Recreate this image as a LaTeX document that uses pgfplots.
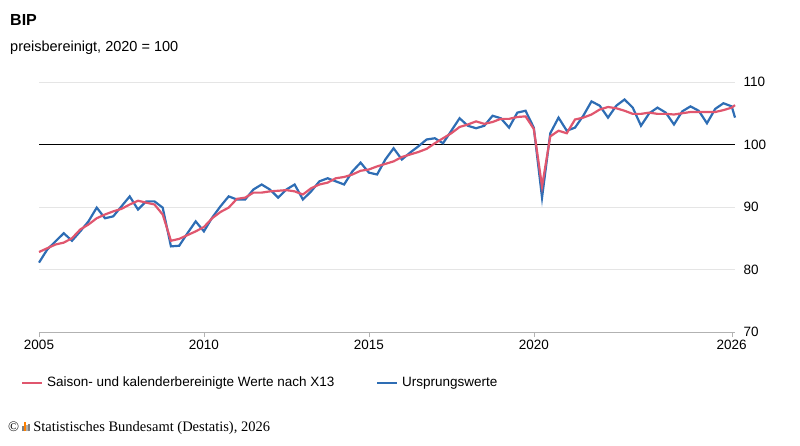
\documentclass[border=0pt]{standalone}
\usepackage{pgfplots}
\pgfplotsset{compat=1.18}
\usepackage{fontspec}
\setmainfont{Liberation Sans}
\newfontfamily\seriff{Liberation Serif}
\definecolor{bl}{HTML}{2E6DB4}
\definecolor{rd}{HTML}{E0566E}
\begin{document}
\begin{tikzpicture}[x=1pt,y=1pt]
\path (0,0) rectangle (800,-446);
\node[anchor=west,inner sep=0pt,font=\bfseries\fontsize{16}{18}\selectfont] at (10,-20) {BIP};
\node[anchor=west,inner sep=0pt,font=\fontsize{14.5}{16}\selectfont] at (10,-48) {preisbereinigt, 2020 = 100};
\begin{axis}[at={(39pt,-332pt)},anchor=south west,scale only axis,width=696pt,height=250pt,
 xmin=2005,xmax=2026.1,ymin=70,ymax=110,
 axis y line*=right, axis x line*=bottom, y axis line style={draw=none},
 x axis line style={gray!60}, xtick={2005,2010,2015,2020,2026},
 xticklabel style={/pgf/number format/1000 sep=,font=\fontsize{13.5}{15}\selectfont},
 yticklabel style={font=\fontsize{13.5}{15}\selectfont},
 /pgf/number format/assume math mode=true,
 ytick={70,80,90,100,110}, ymajorgrids, grid style={gray!20,line width=0.8pt},
 ytick style={draw=none}, xtick style={gray!60}, tick align=outside, major tick length=5pt,
 clip=false]
\addplot[black,line width=0.8pt] coordinates {(2005,100)(2026.1,100)};
\addplot[bl,line width=2.2pt] coordinates {
(2005.0,81.1)(2005.25,83.2)(2005.5,84.5)(2005.75,85.8)(2006.0,84.6)(2006.25,86.1)(2006.5,87.7)(2006.75,89.9)
(2007.0,88.2)(2007.25,88.5)(2007.5,90.1)(2007.75,91.7)(2008.0,89.6)(2008.25,90.9)(2008.5,90.9)(2008.75,89.9)
(2009.0,83.7)(2009.25,83.8)(2009.5,85.8)(2009.75,87.7)(2010.0,86.1)(2010.25,88.3)(2010.5,90.1)(2010.75,91.7)
(2011.0,91.2)(2011.25,91.2)(2011.5,92.8)(2011.75,93.6)(2012.0,92.8)(2012.25,91.5)(2012.5,92.8)(2012.75,93.6)
(2013.0,91.2)(2013.25,92.5)(2013.5,94.1)(2013.75,94.6)(2014.0,94.1)(2014.25,93.6)(2014.5,95.7)(2014.75,97.1)
(2015.0,95.5)(2015.25,95.2)(2015.5,97.6)(2015.75,99.4)(2016.0,97.6)(2016.25,98.7)(2016.5,99.7)(2016.75,100.8)
(2017.0,101.0)(2017.25,100.2)(2017.5,102.2)(2017.75,104.2)(2018.0,103.0)(2018.25,102.6)(2018.5,103.0)(2018.75,104.6)
(2019.0,104.2)(2019.25,102.7)(2019.5,105.1)(2019.75,105.4)(2020.0,102.7)(2020.25,91.5)(2020.5,101.8)(2020.75,104.3)
(2021.0,102.2)(2021.25,102.7)(2021.5,104.6)(2021.75,106.9)(2022.0,106.2)(2022.25,104.3)(2022.5,106.2)(2022.75,107.2)
(2023.0,105.9)(2023.25,103.0)(2023.5,105.0)(2023.75,105.9)(2024.0,105.1)(2024.25,103.2)(2024.5,105.3)(2024.75,106.1)
(2025.0,105.4)(2025.25,103.4)(2025.5,105.7)(2025.75,106.6)(2026.0,106.1)(2026.1,104.3)};
\addplot[rd,line width=2.2pt] coordinates {
(2005.0,82.8)(2005.25,83.4)(2005.5,84.0)(2005.75,84.3)(2006.0,85.0)(2006.25,86.4)(2006.5,87.2)(2006.75,88.2)
(2007.0,88.8)(2007.25,89.3)(2007.5,89.7)(2007.75,90.4)(2008.0,91.0)(2008.25,90.7)(2008.5,90.4)(2008.75,88.8)
(2009.0,84.6)(2009.25,84.9)(2009.5,85.5)(2009.75,86.1)(2010.0,86.8)(2010.25,88.2)(2010.5,89.2)(2010.75,89.9)
(2011.0,91.3)(2011.25,91.5)(2011.5,92.3)(2011.75,92.3)(2012.0,92.5)(2012.25,92.6)(2012.5,92.7)(2012.75,92.5)
(2013.0,92.0)(2013.25,93.0)(2013.5,93.6)(2013.75,93.9)(2014.0,94.6)(2014.25,94.8)(2014.5,95.2)(2014.75,95.8)
(2015.0,96.0)(2015.25,96.5)(2015.5,96.9)(2015.75,97.3)(2016.0,98.0)(2016.25,98.4)(2016.5,98.8)(2016.75,99.3)
(2017.0,100.2)(2017.25,101.0)(2017.5,101.8)(2017.75,102.8)(2018.0,103.2)(2018.25,103.7)(2018.5,103.3)(2018.75,103.6)
(2019.0,104.1)(2019.25,104.1)(2019.5,104.4)(2019.75,104.5)(2020.0,102.5)(2020.25,93.3)(2020.5,101.3)(2020.75,102.2)
(2021.0,101.8)(2021.25,104.0)(2021.5,104.3)(2021.75,104.8)(2022.0,105.6)(2022.25,106.0)(2022.5,105.8)(2022.75,105.4)
(2023.0,104.9)(2023.25,104.9)(2023.5,105.1)(2023.75,104.9)(2024.0,104.9)(2024.25,104.8)(2024.5,105.0)(2024.75,105.2)
(2025.0,105.2)(2025.25,105.2)(2025.5,105.2)(2025.75,105.5)(2026.0,105.9)(2026.1,106.3)};
\end{axis}
\draw[rd,line width=2.2pt] (22,-383) -- (42,-383);
\node[anchor=west,inner sep=0pt,font=\fontsize{13.5}{15}\selectfont] at (47,-383) {Saison- und kalenderbereinigte Werte nach X13};
\draw[bl,line width=2.2pt] (377,-383) -- (397,-383);
\node[anchor=west,inner sep=0pt,font=\fontsize{13.5}{15}\selectfont] at (402,-383) {Ursprungswerte};
\node[anchor=west,inner sep=0pt,font=\seriff\fontsize{14.5}{16}\selectfont] at (8,-428) {\copyright\,\textcolor{gray}{\rule{2pt}{5pt}}\textcolor{orange}{\rule{2pt}{9pt}}\textcolor{gray!60}{\rule{2pt}{6pt}}\textcolor{gray}{\rule{2pt}{7pt}} Statistisches Bundesamt (Destatis), 2026};
\end{tikzpicture}
\end{document}
